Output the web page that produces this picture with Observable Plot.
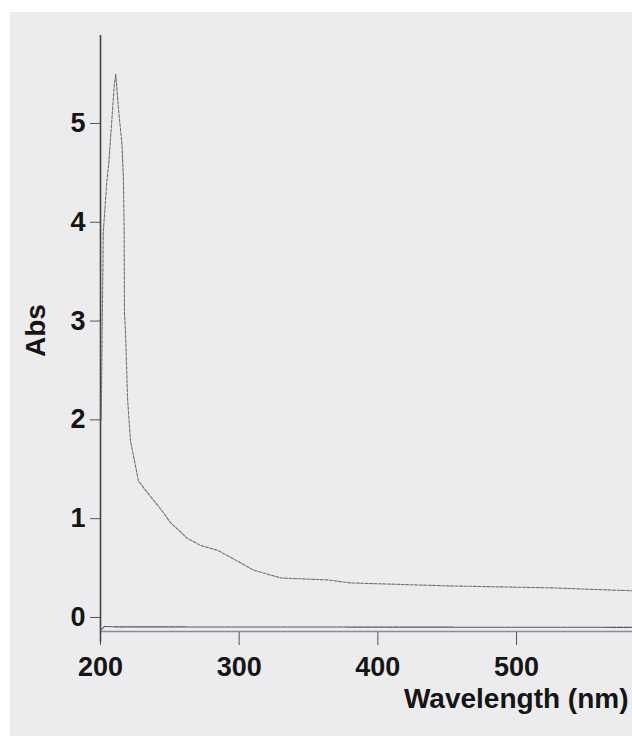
<!DOCTYPE html>
<html>
<head>
<meta charset="utf-8">
<script src="https://cdn.jsdelivr.net/npm/d3@7"></script>
<script src="https://cdn.jsdelivr.net/npm/@observablehq/plot@0.6"></script>
<style>
  html, body { margin: 0; padding: 0; background: #ffffff; }
  #chart { padding: 12px 0 0 10px; width: 622px; height: 724px; }
  #chart svg { background: #ececee; display: block; }
</style>
</head>
<body>
<div id="chart"></div>
<script>
// Wavelength (nm) and absorbance
const wavelength = [200.5, 202, 204.5, 206, 208, 210, 211, 213, 215.5, 216.5, 217, 217.3, 218, 219.5, 221.6, 227.4, 234.6, 243.3, 250.5, 262.7, 272, 284.4, 293.7, 310.3, 329.8, 363.7, 380, 450, 524.4, 583.6];
const absorbance = [2.0, 3.9, 4.4, 4.6, 5.0, 5.4, 5.5, 5.14, 4.79, 4.44, 4.0, 3.07, 2.9, 2.22, 1.79, 1.38, 1.25, 1.10, 0.96, 0.80, 0.73, 0.68, 0.61, 0.48, 0.40, 0.38, 0.35, 0.32, 0.30, 0.27];

// Baseline trace
const baseWavelength = [200, 203, 210, 583.6];
const baseAbsorbance = [-0.13, -0.09, -0.095, -0.1];

const xTicks = [200, 300, 400, 500];
const yTicks = [0, 1, 2, 3, 4, 5];
const xLabel = "Wavelength (nm)";
const yLabel = "Abs";

const spectrum = wavelength.map((w, i) => ({w, a: absorbance[i]}));
const baseline = baseWavelength.map((w, i) => ({w, a: baseAbsorbance[i]}));

const xMin = 200, xMax = 583.6, yMin = -0.142, yMax = 5.89;

const chart = Plot.plot({
  width: 622,
  height: 724,
  marginLeft: 90,
  marginRight: 0,
  marginTop: 23,
  marginBottom: 105,
  style: {fontFamily: "Liberation Sans, Arial, sans-serif", fontSize: "27px", fontWeight: "bold", color: "#151515", background: "#ececee"},
  x: {domain: [xMin, xMax]},
  y: {domain: [yMin, yMax]},
  marks: [
    Plot.axisX(xTicks, {anchor: "bottom", tickSize: 14, tickPadding: 11, stroke: "#555", fill: "#151515", fontSize: 27, fontWeight: "bold", tickFormat: d3.format("d"), label: null}),
    Plot.axisY(yTicks, {anchor: "left", tickSize: 10, tickPadding: 5, stroke: "#555", fill: "#151515", fontSize: 27, fontWeight: "bold", tickFormat: d3.format("d"), label: null}),
    // axis lines
    Plot.ruleY([yMin], {x1: xMin, x2: xMax, stroke: "#8c8c98", strokeWidth: 1.3}),
    Plot.ruleX([xMin], {y1: -0.25, y2: yMax, stroke: "#444", strokeWidth: 1.6, clip: false}),
    // baseline and spectrum
    Plot.line(baseline, {x: "w", y: "a", stroke: "#555", strokeWidth: 1.1, strokeDasharray: "6,1"}),
    Plot.line(spectrum, {x: "w", y: "a", stroke: "#707070", strokeWidth: 1.1, strokeDasharray: "3,1.5", curve: "linear"}),
    // axis titles
    Plot.text([xLabel], {frameAnchor: "bottom-right", dx: -4, dy: 76, text: d => d, textAnchor: "end", lineAnchor: "bottom", fontSize: 28, fontWeight: "bold", fill: "#151515"}),
    Plot.text([yLabel], {frameAnchor: "left", dx: -64, dy: -3, rotate: -90, text: d => d, textAnchor: "middle", fontSize: 28, fontWeight: "bold", fill: "#151515"})
  ]
});
document.getElementById("chart").appendChild(chart);
</script>
</body>
</html>
